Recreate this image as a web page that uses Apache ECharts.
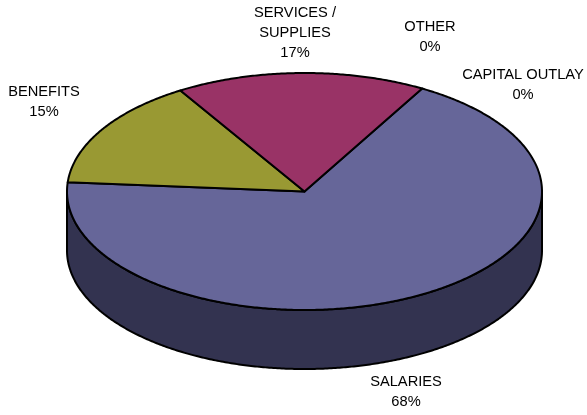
<!DOCTYPE html>
<html>
<head>
<meta charset="utf-8">
<style>html,body{margin:0;padding:0;background:#fff}#chart{width:587px;height:415px}</style>
<script src="https://cdn.jsdelivr.net/npm/echarts@6/dist/echarts.min.js"></script>
</head>
<body>
<div id="chart"></div>
<script>
// Budget shares, in percent, clockwise from the upper right of the disc
const categories = ['SALARIES', 'BENEFITS', 'SERVICES /\nSUPPLIES', 'OTHER', 'CAPITAL OUTLAY'];
const shares = [68, 15, 17, 0, 0];
const topColors = ['#666699', '#999933', '#993366', '#666699', '#999933'];
const sideColors = ['#333350', '#4d4d1a', '#4d1a33', '#333350', '#4d4d1a'];

// Disc geometry
const disc = { cx: 304.5, cy: 191.5, rx: 237.5, ry: 118.5, depth: 59, startDeg: -60.3 };

// Label block centres
const labelCentres = [[406, 391.5], [44, 102], [295, 33], [430, 36.5], [523, 84.5]];

const total = shares.reduce((a, b) => a + b, 0);
const toRad = d => d * Math.PI / 180;
const onRim = (deg, drop) => [
  disc.cx + disc.rx * Math.cos(toRad(deg)),
  disc.cy + disc.ry * Math.sin(toRad(deg)) + (drop || 0)
];
const rimPoints = (from, to, drop) => {
  const pts = [];
  const steps = Math.max(1, Math.ceil((to - from) * 2));
  for (let i = 0; i <= steps; i++) pts.push(onRim(from + (to - from) * i / steps, drop));
  return pts;
};

const lineStyle = { stroke: '#000', lineWidth: 2, lineJoin: 'round' };

function renderSlice(params, api) {
  const i = params.dataIndex;
  let start = disc.startDeg;
  for (let k = 0; k < i; k++) start += shares[k] / total * 360;
  const sweep = api.value(0) / total * 360;
  const end = start + sweep;
  const children = [];

  if (sweep > 0) {
    // Outer wall: only the part of the rim on the near half of the disc shows
    for (const turn of [0, 360]) {
      const a = Math.max(start, turn);
      const b = Math.min(end, turn + 180);
      if (b > a) {
        const upper = rimPoints(a, b, 0);
        const lower = rimPoints(a, b, disc.depth).reverse();
        children.push({
          type: 'polygon', z2: 1,
          shape: { points: upper.concat(lower) },
          style: Object.assign({ fill: sideColors[i] }, lineStyle)
        });
      }
    }
    // Top face
    children.push({
      type: 'polygon', z2: 2,
      shape: { points: [[disc.cx, disc.cy]].concat(rimPoints(start, end, 0)) },
      style: Object.assign({ fill: topColors[i] }, lineStyle)
    });
  }

  children.push({
    type: 'text', z2: 3,
    x: labelCentres[i][0], y: labelCentres[i][1],
    style: {
      text: categories[i] + '\n' + api.value(0) + '%',
      align: 'center', verticalAlign: 'middle',
      fontFamily: '"Liberation Sans", Arial, sans-serif',
      fontSize: 14.67, lineHeight: 20, fill: '#000'
    }
  });
  return { type: 'group', children };
}

const chart = echarts.init(document.getElementById('chart'), null, { renderer: 'canvas' });
chart.setOption({
  animation: false,
  backgroundColor: '#fff',
  series: [{
    type: 'custom',
    coordinateSystem: 'none',
    renderItem: renderSlice,
    data: categories.map((name, i) => ({ name, value: [shares[i]] })),
    silent: true
  }]
});
</script>
</body>
</html>
